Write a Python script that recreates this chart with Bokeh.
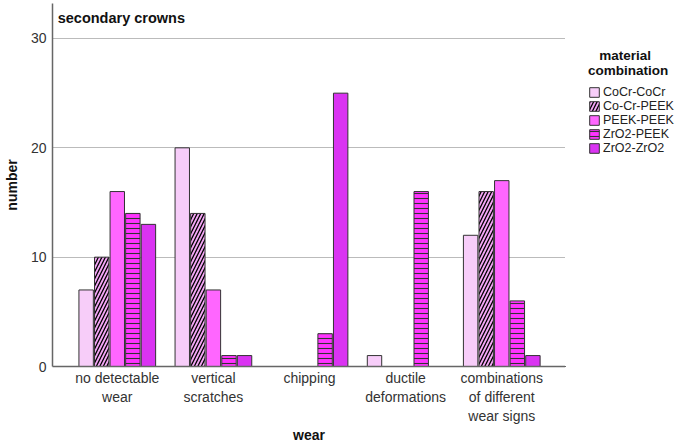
import numpy as np
from bokeh.plotting import figure
from bokeh.layouts import row
from bokeh.models import Range1d, FixedTicker, Legend, Label
from bokeh.embed import file_html
from bokeh.resources import INLINE

categories = ["no detectable wear", "vertical scratches", "chipping",
              "ductile deformations", "combinations of different wear signs"]
tick_labels = ["no detectable\nwear", "vertical\nscratches", "chipping",
               "ductile\ndeformations", "combinations\nof different\nwear signs"]
series_names = ["CoCr-CoCr", "Co-Cr-PEEK", "PEEK-PEEK", "ZrO2-PEEK", "ZrO2-ZrO2"]
cocr_cocr = [7, 20, 0, 1, 12]
cocr_peek = [10, 14, 0, 0, 16]
peek_peek = [16, 7, 0, 0, 17]
zro2_peek = [14, 1, 3, 16, 6]
zro2_zro2 = [13, 1, 25, 0, 1]
series_values = [cocr_cocr, cocr_peek, peek_peek, zro2_peek, zro2_zro2]
y_ticks = [0, 10, 20, 30]

colors = ["#F7CDF9", "#F3A6F5", "#FF66FF", "#FF33FF", "#DA33F2"]
hatches = [None, "/", None, "-", None]

FONT = "Liberation Sans"


def style_kw(j):
    kw = dict(fill_color=colors[j], line_color="#333333", line_width=1)
    if hatches[j] == "/":
        kw.update(hatch_pattern="/", hatch_color="black",
                  hatch_weight=1.3, hatch_scale=7)
    elif hatches[j] == "-":
        kw.update(hatch_pattern="-", hatch_color="#333333",
                  hatch_weight=1.1, hatch_scale=5)
    return kw


p = figure(width=565, height=445, output_backend="svg",
           toolbar_location=None,
           x_range=Range1d(-0.674, 4.663), y_range=Range1d(0, 33.2),
           min_border_left=50, min_border_right=0, min_border_top=3,
           min_border_bottom=79, outline_line_color=None)
p.background_fill_color = "white"
p.border_fill_color = "white"

idx = np.arange(len(categories))
step = 0.162
for j, (name, vals) in enumerate(zip(series_names, series_values)):
    x = idx + (j - 2) * step
    p.vbar(x=x, top=vals, width=0.15, bottom=0, **style_kw(j))

# axes
p.xaxis.ticker = FixedTicker(ticks=list(idx))
p.xaxis.major_label_overrides = {int(i): t for i, t in zip(idx, tick_labels)}
p.xaxis.minor_tick_line_color = None
p.xaxis.major_tick_in = 0
p.xaxis.major_tick_out = 0
p.xaxis.major_label_standoff = 3
p.xaxis.axis_label = "wear"
p.xaxis.axis_label_standoff = 0

p.yaxis.ticker = FixedTicker(ticks=y_ticks)
p.yaxis.minor_tick_line_color = None
p.yaxis.major_tick_in = 0
p.yaxis.major_tick_out = 0
p.yaxis.major_label_standoff = 6
p.yaxis.axis_label = "number"
p.yaxis.axis_label_standoff = 8

for ax in (p.xaxis[0], p.yaxis[0]):
    ax.axis_line_color = "#666666"
    ax.axis_line_width = 1.5
    ax.major_tick_line_color = None
    ax.major_label_text_font = FONT
    ax.major_label_text_font_size = "14px"
    ax.major_label_text_color = "#333333"
    ax.axis_label_text_font = FONT
    ax.axis_label_text_font_size = "14px"
    ax.axis_label_text_font_style = "bold"
    ax.axis_label_text_color = "#111111"

p.xgrid.grid_line_color = None
p.ygrid.ticker = FixedTicker(ticks=y_ticks[1:])
p.ygrid.grid_line_color = "#BBBBBB"
p.ygrid.grid_line_width = 1

title = Label(x=-0.62, y=32.6, text="secondary crowns", text_font=FONT,
              text_font_style="bold", text_font_size="14.5px",
              text_color="#111111", text_baseline="top", text_align="left")
p.add_layout(title)

# legend panel
pl = figure(width=110, height=445, output_backend="svg", toolbar_location=None,
            x_axis_location=None, y_axis_location=None,
            x_range=Range1d(0, 1), y_range=Range1d(0, 1),
            min_border=0, outline_line_color=None)
pl.xgrid.visible = False
pl.ygrid.visible = False
items = []
for j, name in enumerate(series_names):
    # legend stubs placed outside the visible range
    r = pl.vbar(x=[-10], top=[0], width=0.1, bottom=0, **style_kw(j))
    items.append((name, [r]))

legend = Legend(items=items, title="   material\ncombination",
                title_text_font=FONT, title_text_font_style="bold",
                title_text_font_size="13.5px", title_text_color="#111111",
                title_standoff=7,
                label_text_font=FONT, label_text_font_size="12.5px",
                label_text_color="#222222",
                glyph_width=12, glyph_height=12, label_height=12,
                label_standoff=3, spacing=0, padding=0,
                border_line_color=None, background_fill_alpha=0,
                margin=0, location=(23, 211))
pl.add_layout(legend, "center")

layout = row(p, pl, spacing=0)
open("out.html", "w").write(file_html(layout, INLINE))
